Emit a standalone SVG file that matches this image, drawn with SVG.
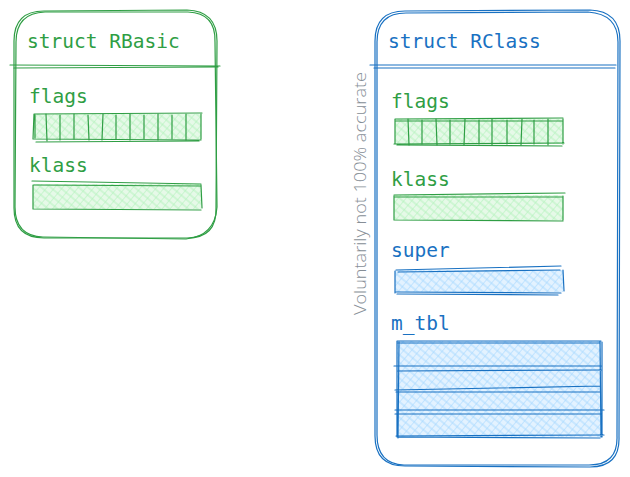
<svg xmlns="http://www.w3.org/2000/svg" width="630" height="477" viewBox="0 0 630 477">
<defs>
<pattern id="hg" patternUnits="userSpaceOnUse" width="6" height="6" patternTransform="rotate(40)">
<rect width="6" height="6" fill="#e6f9e8"/>
<line x1="0" y1="0" x2="0" y2="6" stroke="#b2f2bb" stroke-width="1.1"/>
<line x1="0" y1="3" x2="6" y2="3" stroke="#b2f2bb" stroke-width="0.9"/>
</pattern>
<pattern id="hb" patternUnits="userSpaceOnUse" width="6" height="6" patternTransform="rotate(40)">
<rect width="6" height="6" fill="#e3f2ff"/>
<line x1="0" y1="0" x2="0" y2="6" stroke="#a5d8ff" stroke-width="1.1"/>
<line x1="0" y1="3" x2="6" y2="3" stroke="#a5d8ff" stroke-width="0.9"/>
</pattern>
<style>
.g{stroke:#2f9e44;fill:none;stroke-width:1.2;stroke-linecap:round}
.b{stroke:#1971c2;fill:none;stroke-width:1.2;stroke-linecap:round}
.tg{fill:#2f9e44;font-family:"DejaVu Sans Mono","Liberation Mono",monospace;font-size:19.5px}
.tb{fill:#1971c2;font-family:"DejaVu Sans Mono","Liberation Mono",monospace;font-size:19.5px}
.note{fill:#868e96;font-family:"Open Sans","Liberation Sans",sans-serif;font-size:16px;font-weight:300}
</style>
</defs>

<g id="rbasic">
<path class="g" d="M44 11 L187 10 Q217 11 217 41 L216 208 Q217 238 187 238 L44 238 Q14 238 14 208 L14 41 Q14 11 44 11 Z"/>
<path class="g" d="M45 12 L188 12 Q216 13 215 42 L217 207 Q215 236 186 239 L43 237 Q15 236 15 207 L16 42 Q16 13 45 12 Z"/>
<path class="g" d="M10 65 L220 66 M14 68 L218 67"/>
<text class="tg" x="27" y="48">struct RBasic</text>
<text class="tg" x="29" y="103">flags</text>
<rect x="34" y="114" width="167" height="25" fill="url(#hg)"/>
<path class="g" d="M34 114 L202 113 M33 139 L201 140 M34 114 L33 139 M201 114 L201 139 M36 142 L199 141 M35 115 L35 138"/>
<path class="g" d="M46 114 L47 141 M60 115 L60 140 M74 114 L74 139 M88 115 L89 140 M103 114 L102 140 M116 115 L116 139 M130 114 L130 140 M144 115 L144 139 M158 114 L158 140 M172 115 L172 139 M186 114 L186 140"/>
<text class="tg" x="29" y="172">klass</text>
<rect x="33" y="184" width="168" height="25" fill="url(#hg)"/>
<path class="g" d="M32 181 L201 184 M33 209 L201 210 M33 185 L33 209 M201 185 L202 208 M34 185 L200 186"/>
</g>

<g id="rclass">
<path class="b" d="M405 11 L590 10 Q620 11 620 41 L619 437 Q620 467 590 467 L405 466 Q375 466 375 436 L375 41 Q375 11 405 11 Z"/>
<path class="b" d="M406 13 L588 12 Q618 14 618 42 L617 436 Q618 465 589 465 L404 465 Q377 464 377 435 L377 42 Q377 13 406 13 Z"/>
<path class="b" d="M370 65 L616 65 M374 68 L615 68"/>
<text class="tb" x="388" y="48">struct RClass</text>
<text class="tg" x="391" y="108">flags</text>
<rect x="395" y="119" width="168" height="25" fill="url(#hg)"/>
<path class="g" d="M395 119 L563 118 M394 144 L564 143 M395 119 L395 144 M563 119 L563 144 M396 121 L562 121 M397 145 L562 146"/>
<path class="g" d="M408 119 L409 145 M422 120 L422 144 M436 119 L437 145 M450 120 L450 144 M465 119 L464 145 M479 120 L479 144 M492 119 L492 145 M507 120 L507 144 M522 119 L521 145 M534 120 L534 144 M548 119 L548 145"/>
<text class="tg" x="391" y="186">klass</text>
<rect x="394" y="195" width="169" height="25" fill="url(#hg)"/>
<path class="g" d="M394 195 L565 193 M394 220 L563 221 M394 196 L394 220 M563 196 L563 220 M395 197 L562 197"/>
<text class="tb" x="391" y="257">super</text>
<rect x="395" y="270" width="168" height="22" fill="url(#hb)"/>
<path class="b" d="M396 270 L561 266 M396 292 L561 293 M395 271 L395 293 M563 270 L564 291 M398 272 L560 270 M397 294 L558 295"/>
<text class="tb" x="391" y="330">m_tbl</text>
<rect x="397" y="341" width="204" height="96" fill="url(#hb)"/>
<path class="b" d="M397 341 L601 341 M397 343 L600 343 M397 341 L397 437 M399 342 L398 438 M600 341 L601 437 M602 342 L602 437 M394 366 L601 366 M398 371 L601 370 M395 390 L600 386 M396 392 L600 392 M395 410 L604 410 M395 414 L602 414 M396 436 L604 435 M398 437 L600 438"/>
</g>

<g id="note">
<text class="note" transform="translate(366,315) rotate(-90)" textLength="243" lengthAdjust="spacingAndGlyphs">Voluntarily not 100% accurate</text>
</g>
<g id="connectors"/>
</svg>
